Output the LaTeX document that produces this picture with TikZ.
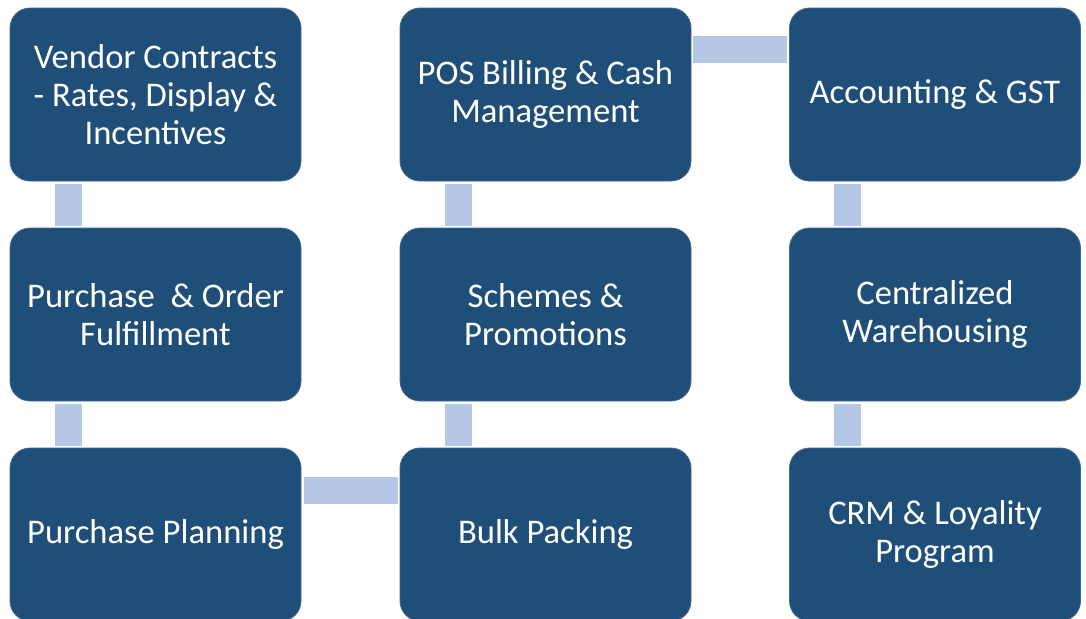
\documentclass[tikz,border=0pt]{standalone}
\usepackage{fontspec}
\setmainfont{Carlito}
\definecolor{boxblue}{HTML}{1F4E79}
\definecolor{linkblue}{HTML}{B4C7E7}
\begin{document}
\begin{tikzpicture}[x=0.5pt,y=-0.5pt,
	stage/.style={fill=boxblue,draw=boxblue!85!white,rounded corners=10pt,minimum width=145.5pt,minimum height=86.5pt,inner sep=0pt,text=white,align=center,font=\fontsize{17.3}{19}\selectfont},
	link/.style={linkblue,line width=13.5pt}]
\useasboundingbox (0,0) rectangle (1086,618);
% The stages, row by row
\node[stage] (vendor) at (155.5,94.5) {Vendor Contracts\\- Rates, Display \&\\Incentives};
\node[stage] (pos) at (545.5,94.5) {POS Billing \& Cash\\Management};
\node[stage] (accounting) at (935,94.5) {Accounting \& GST};

\node[stage] (purchase) at (155.5,314.5) {Purchase\ \ \& Order\\Fulfillment};
\node[stage] (schemes) at (545.5,314.5) {Schemes \&\\Promotions};
\node[stage] (warehouse) at (935,314.5) {Centralized\\Warehousing};

\node[stage] (planning) at (155.5,534.5) {Purchase Planning};
\node[stage] (bulk) at (545.5,534.5) {Bulk Packing};
\node[stage] (crm) at (935,534.5) {CRM \& Loyality\\Program};

% The vertical links
\foreach \a/\b in {vendor/purchase,purchase/planning,pos/schemes,schemes/bulk,accounting/warehouse,warehouse/crm}
{
	\draw[link] ([shift={(58.5,3)}]\a.south west) -- ([shift={(58.5,-2)}]\b.north west);
}

% The horizontal links
\draw[link] ([shift={(3,42.5)}]planning.north east) -- ([shift={(-2,42.5)}]bulk.north west);
\draw[link] ([shift={(2,42)}]pos.north east) -- ([shift={(-2,42)}]accounting.north west);

\end{tikzpicture}
\end{document}
